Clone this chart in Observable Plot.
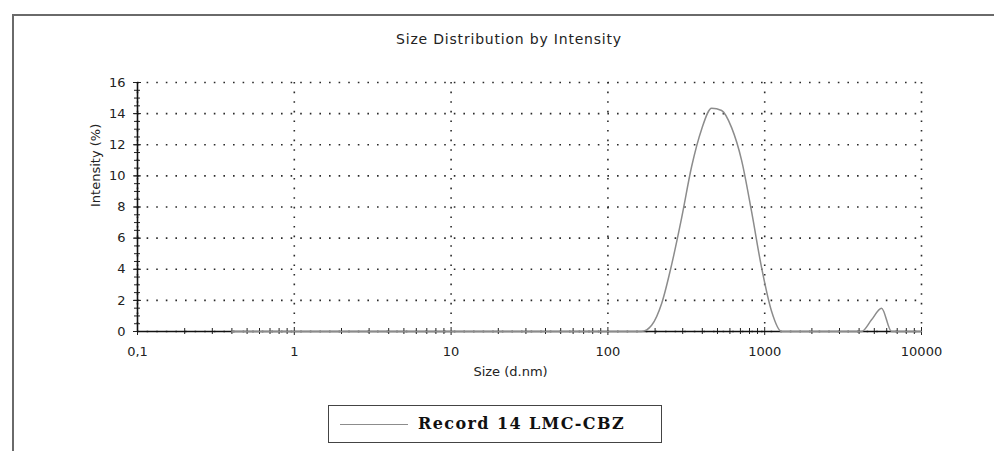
<!DOCTYPE html>
<html>
<head>
<meta charset="utf-8">
<script src="https://cdn.jsdelivr.net/npm/d3@7"></script>
<script src="https://cdn.jsdelivr.net/npm/@observablehq/plot@0.6"></script>
<style>
  body { margin: 0; background: #fff; overflow: hidden; }
  #wrap { position: relative; width: 994px; height: 451px; overflow: hidden; background: #fff;
          font-family: "DejaVu Sans", Verdana, sans-serif; }
  #frame { position: absolute; left: 12px; top: 14px; width: 1000px; height: 460px;
           border-left: 2px solid #6a6a6a; border-top: 2px solid #6a6a6a; }
  #title { position: absolute; top: 31px; left: 0; width: 1018px; text-align: center;
           font-size: 14px; letter-spacing: 0.8px; color: #222; }
  #chart { position: absolute; left: 0; top: 60px; }
  #legend { position: absolute; left: 328px; top: 405px; width: 332px; height: 36px;
            border: 1.5px solid #444; background: #fff; }
  #legend .swatch { position: absolute; left: 11px; top: 18px; width: 68px; height: 0;
                    border-top: 1.5px solid #8c8c8c; }
  #legend .lab { position: absolute; left: 89px; top: 8px; font-family: "DejaVu Serif", serif;
                 font-weight: bold; font-size: 16px; letter-spacing: 1.4px; color: #111; white-space: nowrap; }
  #chart svg g[aria-label="x-axis tick label"] text,
  #chart svg g[aria-label="y-axis tick label"] text { font-size: 13px; }
</style>
</head>
<body>
<div id="wrap">
  <div id="frame"></div>
  <div id="title"></div>
  <div id="chart"></div>
  <div id="legend"><div class="swatch"></div><div class="lab"></div></div>
</div>
<script>
// ---- data ----
const title = "Size Distribution by Intensity";
const xLabel = "Size (d.nm)";
const yLabel = "Intensity (%)";
const seriesName = "Record 14 LMC-CBZ";

const sizes = [0.4, 164.2, 190.1, 220.2, 255.0, 295.3, 342.0, 396.1, 458.7, 531.2, 615.1, 712.4,
               825.0, 955.4, 1106, 1281, 4145, 4801, 5560, 6439, 10000];
const intensity = [0, 0, 0.4, 1.8, 4.3, 7.3, 10.6, 13.0, 14.35, 14.2, 13.1, 11.0,
                   7.7, 4.1, 1.3, 0, 0, 0.75, 1.5, 0, 0];

const xTicks = [0.1, 1, 10, 100, 1000, 10000];
const xTickLabels = ["0,1", "1", "10", "100", "1000", "10000"];
const yTicks = [0, 2, 4, 6, 8, 10, 12, 14, 16];
const yTickLabels = ["0", "2", "4", "6", "8", "10", "12", "14", "16"];

// ---- build ----
const data = sizes.map((s, i) => ({size: s, intensity: intensity[i]}));
const xLabelMap = new Map(xTicks.map((t, i) => [t, xTickLabels[i]]));
const yLabelMap = new Map(yTicks.map((t, i) => [t, yTickLabels[i]]));
const xMinor = [];
for (let k = 0; k < xTicks.length - 1; k++) for (let m = 2; m <= 9; m++) xMinor.push(xTicks[k] * m);
const yMinor = d3.range(0, 16.001, 0.5);

const grid = {stroke: "#2a2a2a", strokeOpacity: 1, strokeWidth: 1.6, strokeDasharray: "1.6,8"};

const chart = Plot.plot({
  width: 994, height: 320,
  marginLeft: 137, marginRight: 73, marginTop: 22, marginBottom: 49,
  style: {fontFamily: "DejaVu Sans, Verdana, sans-serif", fontSize: "13px", color: "#222", background: "transparent"},
  x: {type: "log", domain: [0.1, 10000]},
  y: {domain: [0, 16]},
  marks: [
    Plot.gridX(xTicks, grid),
    Plot.gridY(yTicks, grid),
    Plot.axisX(xTicks, {tickSize: 0, tickPadding: 15, fontSize: 13, tickFormat: d => xLabelMap.get(d), label: null}),
    Plot.axisY(yTicks, {tickSize: 0, tickPadding: 12, fontSize: 13, tickFormat: d => yLabelMap.get(d), label: null}),
    Plot.axisX(xMinor, {tickSize: 6, dy: -3, text: null, label: null, stroke: "#222"}),
    Plot.axisX(xTicks, {tickSize: 8, dy: -4, text: null, label: null, stroke: "#222"}),
    Plot.axisY(yMinor, {tickSize: 6, dx: 3, text: null, label: null, stroke: "#222"}),
    Plot.axisY(yTicks, {tickSize: 8, dx: 4, text: null, label: null, stroke: "#222"}),
    Plot.ruleY([0], {stroke: "#111", strokeWidth: 1.6}),
    Plot.ruleX([0.1], {stroke: "#111", strokeWidth: 1.6}),
    Plot.line(data, {x: "size", y: "intensity", stroke: "#8c8c8c", strokeWidth: 1.5, curve: "monotone-x"}),
    Plot.text([yLabel], {frameAnchor: "left", dx: -42, rotate: -90, fontSize: 13, fill: "#222",
                         style: "letter-spacing:1px"}),
    Plot.text([xLabel], {frameAnchor: "bottom", dx: -19, dy: 44, fontSize: 13, fill: "#222"})
  ]
});
document.getElementById("chart").appendChild(chart);
document.getElementById("title").textContent = title;
document.querySelector("#legend .lab").textContent = seriesName;
</script>
</body>
</html>
